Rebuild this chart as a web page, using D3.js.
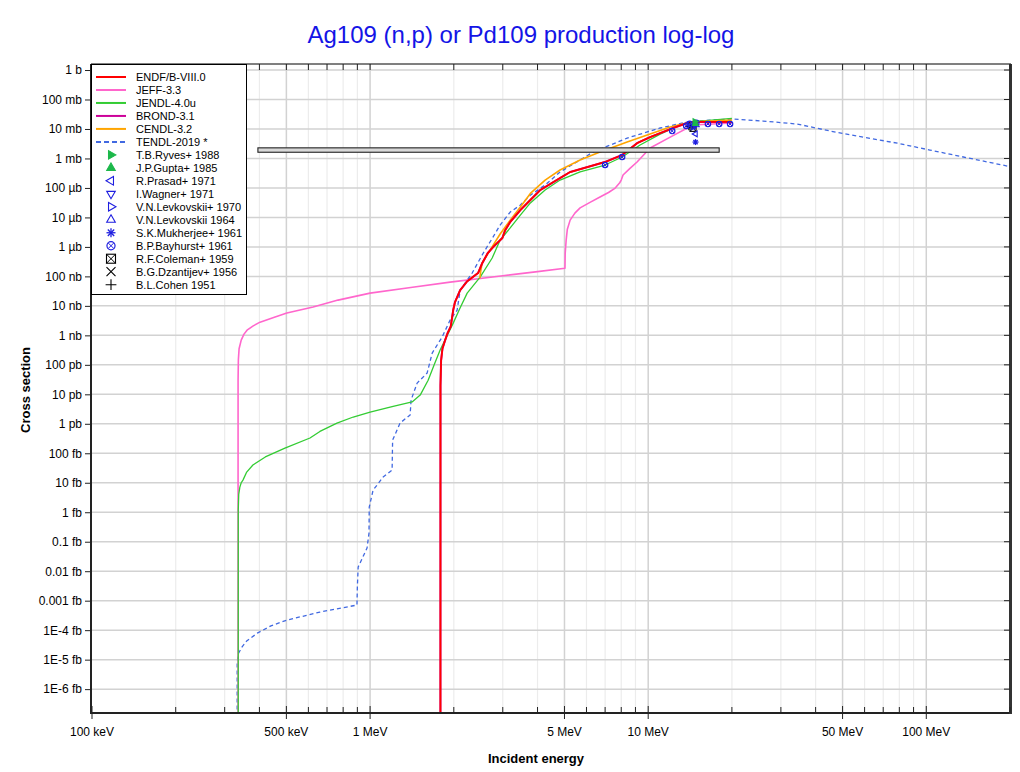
<!DOCTYPE html>
<html><head><meta charset="utf-8">
<script src="https://cdn.jsdelivr.net/npm/d3@7"></script>
<style>body{margin:0;background:#fff;} svg{display:block;font-family:"Liberation Sans",Arial,sans-serif;}</style>
</head><body><svg id="c" width="1020" height="772"></svg>
<script>
// ---- data (energy in MeV, cross section in barns) ----
const xTickVals = [0.1, 0.5, 1, 5, 10, 50, 100];
const xTickLabels = ["100 keV","500 keV","1 MeV","5 MeV","10 MeV","50 MeV","100 MeV"];
const yTickVals = [1,1e-1,1e-2,1e-3,1e-4,1e-5,1e-6,1e-7,1e-8,1e-9,1e-10,1e-11,1e-12,1e-13,1e-14,1e-15,1e-16,1e-17,1e-18,1e-19,1e-20,1e-21];
const yTickLabels = ["1 b","100 mb","10 mb","1 mb","100 µb","10 µb","1 µb","100 nb","10 nb","1 nb","100 pb","10 pb","1 pb","100 fb","10 fb","1 fb","0.1 fb","0.01 fb","0.001 fb","1E-4 fb","1E-5 fb","1E-6 fb"];

const endf = [[1.79,1e-30],[1.791,2e-11],[1.80,1.4e-10],[1.82,3.5e-10],[1.862,6.9e-10],[1.90,1.2e-9],[1.95,2.0e-9],[1.99,7.2e-9],[2.02,1.35e-8],[2.108,3.4e-8],[2.23,6.7e-8],[2.445,1.3e-7],[2.53,2.8e-7],[2.65,6.2e-7],[2.80,1.1e-6],[2.99,2.0e-6],[3.06,3.7e-6],[3.19,7.0e-6],[3.47,1.78e-5],[3.77,3.9e-5],[4.09,8.5e-5],[4.82,2.17e-4],[5.24,3.47e-4],[7.0,7.6e-4],[8.06,1.31e-3],[9.12,3.3e-3],[10.16,5.3e-3],[12.3,1.08e-2],[14.16,1.75e-2],[20.0,1.75e-2]];
const jeff = [[0.335,1e-30],[0.3352,3e-11],[0.336,1.5e-10],[0.338,3.5e-10],[0.344,6.9e-10],[0.352,1.1e-9],[0.361,1.5e-9],[0.38,2.1e-9],[0.402,2.8e-9],[0.45,4.0e-9],[0.502,5.7e-9],[0.624,9.1e-9],[0.767,1.57e-8],[1.0,2.7e-8],[1.4,4.2e-8],[1.94,6.4e-8],[3.0,1.05e-7],[4.0,1.45e-7],[5.02,1.9e-7],[5.03,6e-7],[5.07,1.7e-6],[5.12,4.0e-6],[5.24,8.1e-6],[5.45,1.4e-5],[5.69,2.1e-5],[6.2,3.3e-5],[6.71,4.9e-5],[7.2,7.0e-5],[7.61,9.9e-5],[7.9,1.5e-4],[8.0,1.85e-4],[8.12,2.74e-4],[8.6,4.6e-4],[9.12,7.6e-4],[10.16,2.26e-3],[12.0,5.3e-3],[14.5,1.36e-2],[20.0,1.59e-2]];
const jendl = [[0.3355,1e-30],[0.3357,1.2e-15],[0.337,4e-15],[0.340,7e-15],[0.344,1.0e-14],[0.349,1.23e-14],[0.36,2.3e-14],[0.379,4.0e-14],[0.42,7.5e-14],[0.494,1.5e-13],[0.608,3.3e-13],[0.66,5.5e-13],[0.760,1.06e-12],[0.87,1.7e-12],[1.0,2.5e-12],[1.2,3.8e-12],[1.416,5.5e-12],[1.514,9.4e-12],[1.617,3.0e-11],[1.70,1.0e-10],[1.786,3.2e-10],[1.99,2.6e-9],[2.10,8e-9],[2.234,2.7e-8],[2.487,9.5e-8],[2.748,4.2e-7],[2.935,1.71e-6],[3.19,4.4e-6],[3.47,1.2e-5],[3.77,3.1e-5],[4.26,8.5e-5],[4.82,1.85e-4],[5.69,3.5e-4],[7.0,6.0e-4],[8.06,1.12e-3],[9.35,2.86e-3],[11.04,6.7e-3],[13.0,1.36e-2],[15.4,1.86e-2],[20.0,2.3e-2]];
const brond = [[1.79,1e-30],[1.791,2e-11],[1.80,1.4e-10],[1.82,3.5e-10],[1.862,6.9e-10],[1.90,1.2e-9],[1.95,2.0e-9],[1.99,7.2e-9],[2.02,1.35e-8],[2.108,3.4e-8],[2.23,6.7e-8],[2.445,1.3e-7],[2.53,2.8e-7],[2.65,6.2e-7],[2.80,1.1e-6],[2.99,2.0e-6],[3.06,3.7e-6],[3.19,7.0e-6],[3.47,1.78e-5],[3.77,3.9e-5],[4.09,8.5e-5],[4.82,2.17e-4],[5.24,3.47e-4],[7.0,7.6e-4],[8.06,1.31e-3],[9.12,3.3e-3],[10.16,5.3e-3],[12.3,1.08e-2],[14.16,1.72e-2],[20.0,1.72e-2]];
const cendl = [[2.48,8.8e-8],[2.50,1.5e-7],[2.529,2.8e-7],[2.70,7.8e-7],[2.935,2.73e-6],[3.19,8.1e-6],[3.47,2.25e-5],[3.77,6.5e-5],[4.26,1.85e-4],[4.82,4.05e-4],[5.69,8.9e-4],[6.71,1.65e-3],[8.40,3.6e-3],[10.16,6.7e-3],[12.0,1.16e-2],[14.16,1.72e-2],[20.0,2.0e-2]];
const tendl = [[0.3325,1e-30],[0.3327,7.6e-21],[0.336,1.6e-20],[0.346,2.66e-20],[0.36,4.3e-20],[0.393,7.9e-20],[0.44,1.4e-19],[0.502,2.19e-19],[0.660,4.1e-19],[0.80,5.8e-19],[0.897,7.1e-19],[0.900,3e-18],[0.906,1.38e-17],[0.975,6.1e-17],[0.991,1.96e-16],[0.993,1.49e-15],[1.025,5.6e-15],[1.114,1.56e-14],[1.20,2.69e-14],[1.205,2.8e-13],[1.282,1.06e-12],[1.393,2.0e-12],[1.404,6.4e-12],[1.476,2.4e-11],[1.604,5.3e-11],[1.672,2.5e-10],[1.815,8.7e-10],[1.94,3.3e-9],[2.056,7.2e-9],[2.108,3.4e-8],[2.328,1.3e-7],[2.529,5.3e-7],[2.767,2.16e-6],[2.935,5.5e-6],[3.19,1.52e-5],[3.47,2.63e-5],[3.77,5.7e-5],[4.26,1.26e-4],[4.82,3.47e-4],[6.34,1.65e-3],[8.40,4.9e-3],[11.04,1.08e-2],[13.8,1.72e-2],[16.7,2.0e-2],[20.2,2.18e-2],[25.9,1.86e-2],[34.4,1.47e-2],[45.2,8.5e-3],[59.3,5.3e-3],[78.7,3.3e-3],[103,1.93e-3],[136,1.12e-3],[200,5.3e-4]];

const ryves = [[14.7,0.0178]];
const gupta = [[14.8,0.0150]];
const prasad = [[14.8,0.0068]];
const wagner = [[14.7,0.0125]];
const levk1970 = [[14.5,0.0118]];
const levk1964 = [[14.9,0.0135]];
const mukherjee = [[14.8,0.0036]];
const bayhurst = [[7.0,6.0e-4],[8.06,1.12e-3],[12.2,8.5e-3],[13.7,1.27e-2],[14.1,1.5e-2],[14.9,1.62e-2],[16.4,1.47e-2],[18.0,1.47e-2],[19.7,1.47e-2]];
const coleman = [[14.5,0.0105]];
const dzantijev = [[14.3,0.0135]];
const cohen = [[14.0,0.012]];
const spectrumBar = [[0.395, 18.0, 1.93e-3]]; // [E low, E high, sigma]

// ---- setup ----
const svg = d3.select("#c");
const L = 92, R = 1010, T = 64, B = 713;
const x = d3.scaleLog().domain([0.1, 200]).range([L, R]);
const y = d3.scaleLog().domain([1.55e-22, 1.6]).range([B, T]);

// title
svg.append("text").attr("x", 521).attr("y", 43).attr("text-anchor", "middle")
  .attr("font-size", 24).attr("fill", "#1414e6").text("Ag109 (n,p) or Pd109 production log-log");

// gridlines
const minorX = x.ticks().filter(v => !xTickVals.some(t => Math.abs(t - v) / v < 1e-6));
const grid = svg.append("g");
grid.selectAll(".mx").data(minorX).enter().append("line")
  .attr("x1", d => x(d)).attr("x2", d => x(d)).attr("y1", T).attr("y2", B)
  .attr("stroke", "#ececec").attr("stroke-width", 1.2);
grid.selectAll(".Mx").data(xTickVals.filter(v => v > 0.1)).enter().append("line")
  .attr("x1", d => x(d)).attr("x2", d => x(d)).attr("y1", T).attr("y2", B)
  .attr("stroke", "#d2d2d2").attr("stroke-width", 1.5);
grid.selectAll(".My").data(yTickVals).enter().append("line")
  .attr("x1", L).attr("x2", R).attr("y1", d => y(d)).attr("y2", d => y(d))
  .attr("stroke", "#d2d2d2").attr("stroke-width", 1.5);

// clip
svg.append("clipPath").attr("id", "pc").append("rect").attr("x", L).attr("y", T).attr("width", R - L).attr("height", B - T);
const plot = svg.append("g").attr("clip-path", "url(#pc)");

const line = d3.line().x(d => x(d[0])).y(d => y(d[1]));
const series = [
  {data: tendl, color: "#4169e1", w: 1.3, dash: "4,3"},
  {data: jeff, color: "#ff66cc", w: 1.6},
  {data: jendl, color: "#33cc33", w: 1.3},
  {data: cendl, color: "#ffa500", w: 1.6},
  {data: brond, color: "#cc0099", w: 2},
  {data: endf, color: "#ff0000", w: 1.8}
];
series.forEach(s => {
  plot.append("path").attr("d", line(s.data)).attr("fill", "none")
    .attr("stroke", s.color).attr("stroke-width", s.w)
    .attr("stroke-dasharray", s.dash || null).attr("stroke-linejoin", "round");
});

// spectrum averaged bar
plot.selectAll(".bar").data(spectrumBar).enter().append("rect")
  .attr("x", d => x(d[0])).attr("width", d => x(d[1]) - x(d[0]))
  .attr("y", d => y(d[2]) - 2.2).attr("height", 4.4)
  .attr("fill", "#d8d8d8").attr("stroke", "#222").attr("stroke-width", 1.1);

// markers
function marker(g, type, cx, cy, s) {
  const blue = "#1e1ee0", green = "#1cb84a";
  const h = s / 2;
  const tri = (ang, fill, col) => {
    const pts = [0, 1, 2].map(i => {
      const a = (ang + i * 120) * Math.PI / 180;
      return [cx + h * 1.1 * Math.cos(a), cy + h * 1.1 * Math.sin(a) + 0];
    });
    g.append("path").attr("d", "M" + pts.map(p => p.join(",")).join("L") + "Z")
      .attr("fill", fill ? col : "none").attr("stroke", col).attr("stroke-width", 1.1);
  };
  if (type === "triRf") tri(0, true, green);
  else if (type === "triUf") tri(-90, true, green);
  else if (type === "triL") tri(180, false, blue);
  else if (type === "triD") tri(90, false, blue);
  else if (type === "triR") tri(0, false, blue);
  else if (type === "triU") tri(-90, false, blue);
  else if (type === "star") {
    for (let i = 0; i < 4; i++) {
      const a = i * Math.PI / 4;
      g.append("line").attr("x1", cx - h * Math.cos(a)).attr("y1", cy - h * Math.sin(a))
        .attr("x2", cx + h * Math.cos(a)).attr("y2", cy + h * Math.sin(a))
        .attr("stroke", blue).attr("stroke-width", 1.3);
    }
  } else if (type === "circX") {
    const r = h * 0.9, k = r * 0.7;
    g.append("circle").attr("cx", cx).attr("cy", cy).attr("r", r).attr("fill", "none").attr("stroke", blue).attr("stroke-width", 1.2);
    g.append("path").attr("d", `M${cx-k},${cy-k}L${cx+k},${cy+k}M${cx-k},${cy+k}L${cx+k},${cy-k}`).attr("stroke", blue).attr("stroke-width", 1);
  } else if (type === "boxX") {
    g.append("rect").attr("x", cx - h).attr("y", cy - h).attr("width", s).attr("height", s).attr("fill", "none").attr("stroke", "#000").attr("stroke-width", 1.1);
    g.append("path").attr("d", `M${cx-h},${cy-h}L${cx+h},${cy+h}M${cx-h},${cy+h}L${cx+h},${cy-h}`).attr("stroke", "#000").attr("stroke-width", 1);
  } else if (type === "x") {
    g.append("path").attr("d", `M${cx-h},${cy-h}L${cx+h},${cy+h}M${cx-h},${cy+h}L${cx+h},${cy-h}`).attr("stroke", "#000").attr("stroke-width", 1.1);
  } else if (type === "plus") {
    g.append("path").attr("d", `M${cx-h*1.2},${cy}L${cx+h*1.2},${cy}M${cx},${cy-h*1.2}L${cx},${cy+h*1.2}`).attr("stroke", "#000").attr("stroke-width", 1.1);
  }
}

const expSets = [
  {name: "T.B.Ryves+ 1988", data: ryves, type: "triRf"},
  {name: "J.P.Gupta+ 1985", data: gupta, type: "triUf"},
  {name: "R.Prasad+ 1971", data: prasad, type: "triL"},
  {name: "I.Wagner+ 1971", data: wagner, type: "triD"},
  {name: "V.N.Levkovskii+ 1970", data: levk1970, type: "triR"},
  {name: "V.N.Levkovskii 1964", data: levk1964, type: "triU"},
  {name: "S.K.Mukherjee+ 1961", data: mukherjee, type: "star"},
  {name: "B.P.Bayhurst+ 1961", data: bayhurst, type: "circX"},
  {name: "R.F.Coleman+ 1959", data: coleman, type: "boxX"},
  {name: "B.G.Dzantijev+ 1956", data: dzantijev, type: "x"},
  {name: "B.L.Cohen 1951", data: cohen, type: "plus"}
];
const mg = plot.append("g");
expSets.slice().reverse().forEach(s => s.data.forEach(d => marker(mg, s.type, x(d[0]), y(d[1]), 6)));

// frame
const fr = svg.append("g");
fr.append("line").attr("x1", L - 1).attr("x2", R + 1).attr("y1", T).attr("y2", T).attr("stroke", "#000").attr("stroke-width", 1);
fr.append("line").attr("x1", L - 1).attr("x2", L - 1).attr("y1", T).attr("y2", B + 1).attr("stroke", "#222").attr("stroke-width", 2);
fr.append("line").attr("x1", L - 2).attr("x2", R + 1).attr("y1", B).attr("y2", B).attr("stroke", "#222").attr("stroke-width", 2);
fr.append("line").attr("x1", R + 0.5).attr("x2", R + 0.5).attr("y1", T).attr("y2", B + 1).attr("stroke", "#333").attr("stroke-width", 3);

// y axis
const yAxis = d3.axisLeft(y).tickValues(yTickVals).tickFormat((d, i) => yTickLabels[i]).tickSize(6).tickPadding(3);
const gy = svg.append("g").attr("transform", `translate(${L - 1},0)`).call(yAxis);
gy.select(".domain").remove();
gy.selectAll("text").attr("font-size", 12).attr("font-family", "Liberation Sans, Arial, sans-serif").attr("fill", "#000");
gy.selectAll("line").attr("stroke", "#222");
// right inner ticks
svg.append("g").selectAll("line").data(yTickVals).enter().append("line")
  .attr("x1", R - 6).attr("x2", R).attr("y1", d => y(d)).attr("y2", d => y(d)).attr("stroke", "#222");

// x axis
const gx = svg.append("g").attr("transform", `translate(0,${B})`);
gx.selectAll(".mt").data(minorX).enter().append("line")
  .attr("x1", d => x(d)).attr("x2", d => x(d)).attr("y1", -6).attr("y2", 0).attr("stroke", "#222");
gx.selectAll(".Mt").data(xTickVals).enter().append("line")
  .attr("x1", d => x(d)).attr("x2", d => x(d)).attr("y1", -7).attr("y2", 6).attr("stroke", "#222");
gx.selectAll("text").data(xTickVals).enter().append("text")
  .attr("x", d => x(d)).attr("y", 23).attr("text-anchor", "middle").attr("font-size", 12)
  .text((d, i) => xTickLabels[i]);
// top inner ticks
svg.append("g").selectAll("line").data(minorX.concat(xTickVals)).enter().append("line")
  .attr("x1", d => x(d)).attr("x2", d => x(d)).attr("y1", T).attr("y2", T + 6).attr("stroke", "#222");

// axis titles
svg.append("text").attr("x", 536).attr("y", 763).attr("text-anchor", "middle")
  .attr("font-size", 13).attr("font-weight", "bold").text("Incident energy");
svg.append("text").attr("transform", "translate(30,390) rotate(-90)").attr("text-anchor", "middle")
  .attr("font-size", 13).attr("font-weight", "bold").text("Cross section");

// legend
const lg = svg.append("g");
lg.append("rect").attr("x", L - 0.5).attr("y", T + 0.5).attr("width", 155).attr("height", 230)
  .attr("fill", "#fff").attr("stroke", "#000").attr("stroke-width", 1);
const lineItems = [
  {name: "ENDF/B-VIII.0", color: "#ff0000"},
  {name: "JEFF-3.3", color: "#ff66cc"},
  {name: "JENDL-4.0u", color: "#33cc33"},
  {name: "BROND-3.1", color: "#cc0099"},
  {name: "CENDL-3.2", color: "#ffa500"},
  {name: "TENDL-2019 *", color: "#4169e1", dash: "5,3"}
];
const rowY = i => 77 + i * 12.98;
lineItems.forEach((it, i) => {
  lg.append("line").attr("x1", 96).attr("x2", 126).attr("y1", rowY(i)).attr("y2", rowY(i))
    .attr("stroke", it.color).attr("stroke-width", 2).attr("stroke-dasharray", it.dash || null);
  lg.append("text").attr("x", 136).attr("y", rowY(i) + 4).attr("font-size", 11).text(it.name);
});
expSets.forEach((s, j) => {
  const i = j + 6;
  marker(lg, s.type, 111, rowY(i), 9);
  lg.append("text").attr("x", 136).attr("y", rowY(i) + 4).attr("font-size", 11).text(s.name);
});
</script></body></html>
